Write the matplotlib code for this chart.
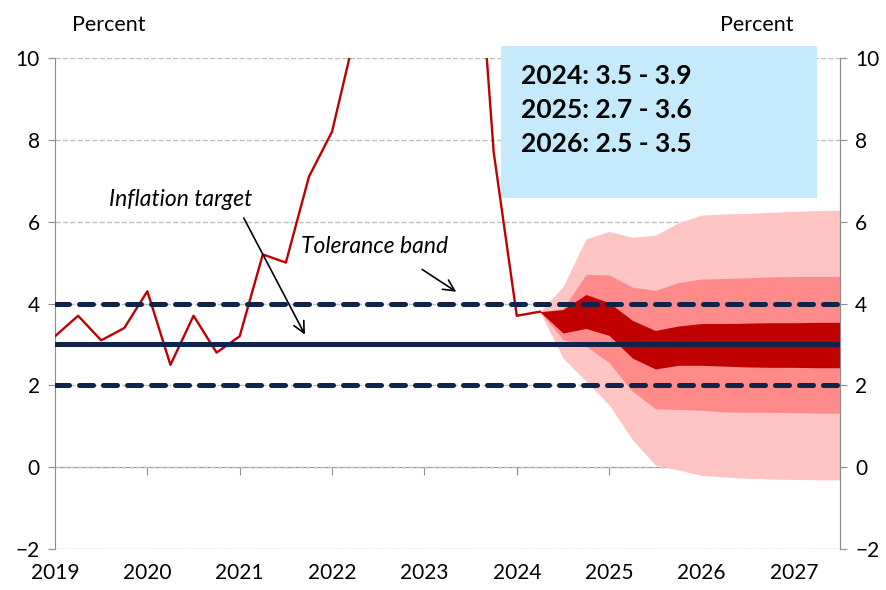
import numpy as np
import matplotlib.pyplot as plt
from matplotlib.patches import Rectangle

plt.rcParams['font.family'] = ['Lato', 'DejaVu Sans']

# kvartalsvis tid, 2019Q1 .. 2027Q3
t = 2019 + np.arange(35) / 4

# faktisk inflation 2019Q1 .. 2024Q2
inflation = [3.2, 3.7, 3.1, 3.4, 4.3, 2.5, 3.7, 2.8, 3.2, 5.2, 5.0, 7.1,
             8.2, 10.6, 15.7, 22.6, 25.4, 21.9, 15.4, 7.7, 3.7, 3.8]

# vifte fra 2024Q2 .. 2027Q3
fan_t = t[21:]
outer_hi = [3.8, 4.41, 5.58, 5.76, 5.62, 5.67, 5.97, 6.16, 6.19, 6.20, 6.23, 6.25, 6.27, 6.28]
outer_lo = [3.8, 2.67, 2.10, 1.52, 0.68, 0.05, -0.07, -0.20, -0.24, -0.27, -0.29, -0.30, -0.31, -0.31]
mid_hi = [3.8, 3.87, 4.71, 4.70, 4.40, 4.32, 4.51, 4.60, 4.61, 4.63, 4.65, 4.66, 4.66, 4.66]
mid_lo = [3.8, 3.12, 2.96, 2.55, 1.86, 1.43, 1.41, 1.39, 1.35, 1.34, 1.34, 1.33, 1.32, 1.32]
inner_hi = [3.8, 3.85, 4.22, 4.02, 3.59, 3.34, 3.45, 3.51, 3.51, 3.52, 3.53, 3.53, 3.54, 3.54]
inner_lo = [3.8, 3.28, 3.39, 3.22, 2.67, 2.40, 2.49, 2.49, 2.47, 2.45, 2.44, 2.44, 2.43, 2.43]

target = 3
band = [2, 4]
years = list(range(2019, 2028))
box_lines = ['2024: 3.5 - 3.9', '2025: 2.7 - 3.6', '2026: 2.5 - 3.5']

navy = '#10244B'
red = '#C00000'
grey = '#8C8C8C'

fig = plt.figure(figsize=(8.86, 5.9), dpi=100)
ax = fig.add_axes([55 / 886, 1 - 549 / 590, 785 / 886, 491 / 590])

ax.fill_between(fan_t, outer_lo, outer_hi, color='#FFC4C4', lw=0, zorder=2)
ax.fill_between(fan_t, mid_lo, mid_hi, color='#FF8A8A', lw=0, zorder=3)
ax.fill_between(fan_t, inner_lo, inner_hi, color=red, lw=0, zorder=4)

ax.plot(t[:len(inflation)], inflation, color=red, lw=1.7, zorder=5)

ax.axhline(target, color=navy, lw=3.6, zorder=6)
for b in band:
    ax.axhline(b, color=navy, lw=3.6, ls=(0, (2.8, 2.0)), dash_capstyle='round', zorder=6)

ax.set_xlim(2019, 2027.5)
ax.set_ylim(-2, 10)
ax.set_yticks(range(-2, 11, 2))
ax.yaxis.grid(True, color='#BFBFBF', ls='--', lw=1, zorder=0)
ax.set_axisbelow(True)
ax.set_xticks(years)
ax.set_xticklabels([str(y) for y in years])
ax.tick_params(axis='x', length=0, pad=10, labelsize=15)
ax.tick_params(axis='y', length=5, color=grey, direction='out', labelsize=15, pad=6)
for s in ['top', 'bottom']:
    ax.spines[s].set_visible(False)
for s in ['left', 'right']:
    ax.spines[s].set_color(grey)

# x-akse ved 0 med tickmarks
sec = ax.secondary_xaxis(2 / 12)
sec.set_xticks(years[1:])
sec.set_xticklabels([])
sec.tick_params(length=6, color=grey, direction='out')
sec.spines['bottom'].set_color(grey)

ax2 = ax.twinx()
ax2.set_ylim(-2, 10)
ax2.set_yticks(range(-2, 11, 2))
ax2.tick_params(axis='y', length=5, color=grey, direction='out', labelsize=15, pad=6)
for s in ['top', 'bottom', 'left']:
    ax2.spines[s].set_visible(False)
ax2.spines['right'].set_color(grey)

fig.text(72 / 886, 1 - 25 / 590, 'Percent', fontsize=15.5, va='center')
fig.text(720 / 886, 1 - 25 / 590, 'Percent', fontsize=15.5, va='center')

ax.annotate('', xy=(2021.72, 3.18), xytext=(2021.03, 6.15),
            arrowprops=dict(arrowstyle='->', color='black', lw=1.2, mutation_scale=20), zorder=7)
ax.text(2019.59, 6.55, 'Inflation target', fontsize=16.5, style='italic', va='center')
ax.annotate('', xy=(2023.37, 4.25), xytext=(2022.95, 4.87),
            arrowprops=dict(arrowstyle='->', color='black', lw=1.2, mutation_scale=20), zorder=7)
ax.text(2021.66, 5.4, 'Tolerance band', fontsize=16.5, style='italic', va='center')

ax.add_patch(Rectangle((2023.83, 6.58), 3.42, 3.72, facecolor='#C5EAFB', edgecolor='none',
                       clip_on=False, zorder=8))
for k, line in enumerate(box_lines):
    ax.text(2024.05, 9.55 - k * 0.83, line, fontsize=19, fontweight='bold', va='center', zorder=9)

fig.savefig('out.png', dpi=100)
